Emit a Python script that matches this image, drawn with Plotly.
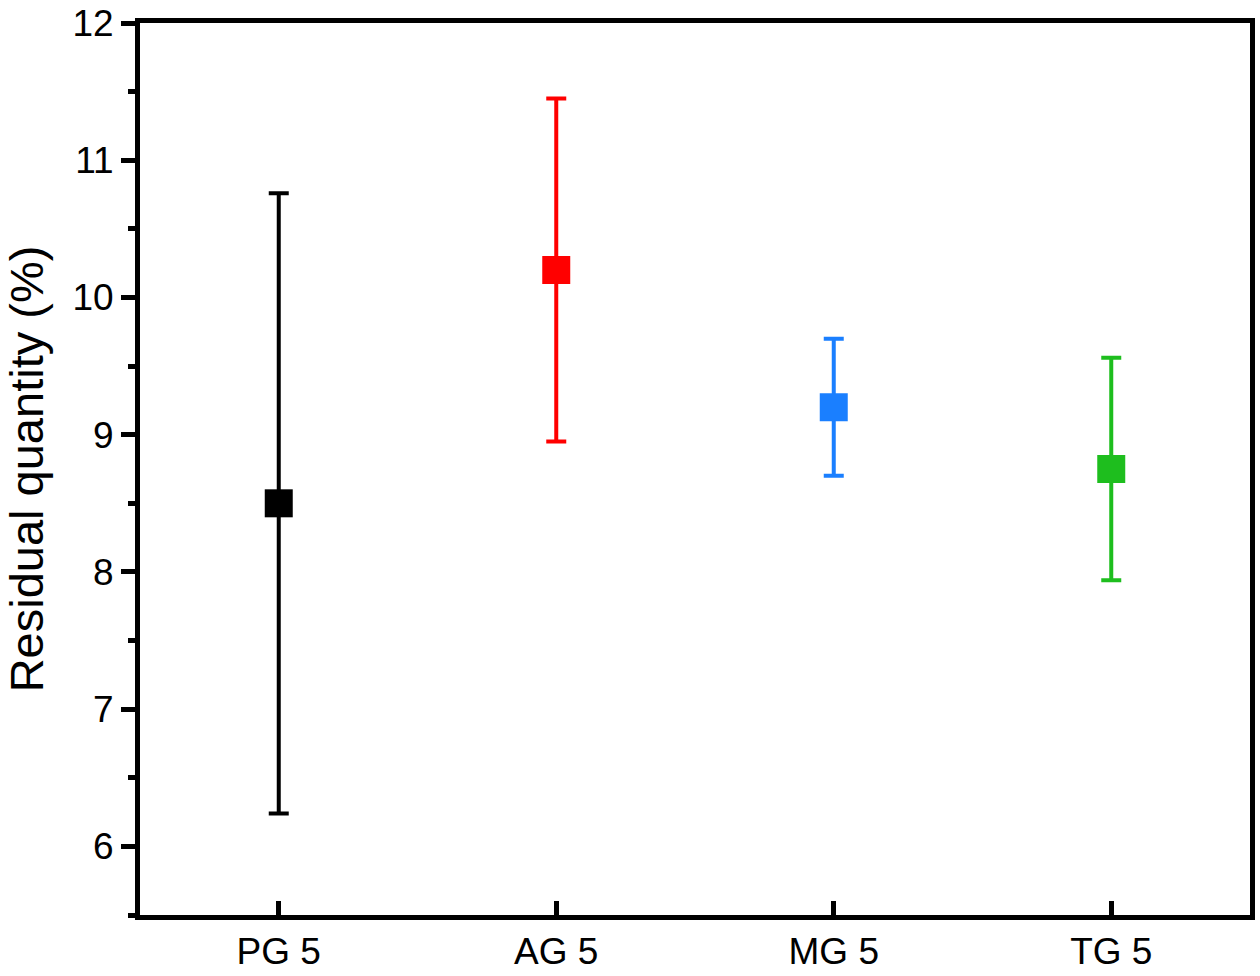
import plotly.graph_objects as go

categories = ["PG 5", "AG 5", "MG 5", "TG 5"]
means = [8.5, 10.2, 9.2, 8.75]
errors = [2.26, 1.25, 0.5, 0.81]
colors = ["#000000", "#ff0000", "#1a7fff", "#1ebe1e"]

fig = go.Figure()
for c, m, e, col in zip(categories, means, errors, colors):
    fig.add_trace(go.Scatter(
        x=[c], y=[m], mode="markers",
        marker=dict(symbol="square", size=28, color=col),
        error_y=dict(type="data", array=[e], visible=True, color=col, thickness=4, width=10),
        showlegend=False,
    ))

font = "Liberation Sans, Arial, sans-serif"
fig.update_layout(
    width=1260, height=976,
    margin=dict(l=140, r=10, t=23, b=61),
    plot_bgcolor="white", paper_bgcolor="white",
    font=dict(family=font, color="black", size=37),
)
fig.update_xaxes(
    type="category", categoryorder="array", categoryarray=categories,
    range=[-0.5, 3.5], automargin=False, ticklabeloverflow="allow",
    showline=True, linewidth=5, linecolor="black", mirror=True,
    ticks="inside", ticklen=14, tickwidth=5, tickcolor="black",
    showgrid=False, zeroline=False,
    tickfont=dict(size=37, family=font),
)
fig.update_yaxes(
    range=[5.5, 12], tickvals=[6, 7, 8, 9, 10, 11, 12], automargin=False,
    ticklabeloverflow="allow",
    showline=True, linewidth=5, linecolor="black", mirror=True,
    ticks="outside", ticklen=14, tickwidth=5, tickcolor="black",
    minor=dict(tickvals=[5.5, 6.5, 7.5, 8.5, 9.5, 10.5, 11.5], ticks="outside", ticklen=7, tickwidth=5, tickcolor="black"),
    showgrid=False, zeroline=False,
    tickfont=dict(size=37, family=font),
    title=dict(text="Residual quantity (%)", font=dict(size=47, family=font), standoff=18),
)
fig.write_html(
    "out.html",
    config={"displayModeBar": False},
    post_script="document.body.style.margin='0';document.body.style.overflow='hidden';",
)
